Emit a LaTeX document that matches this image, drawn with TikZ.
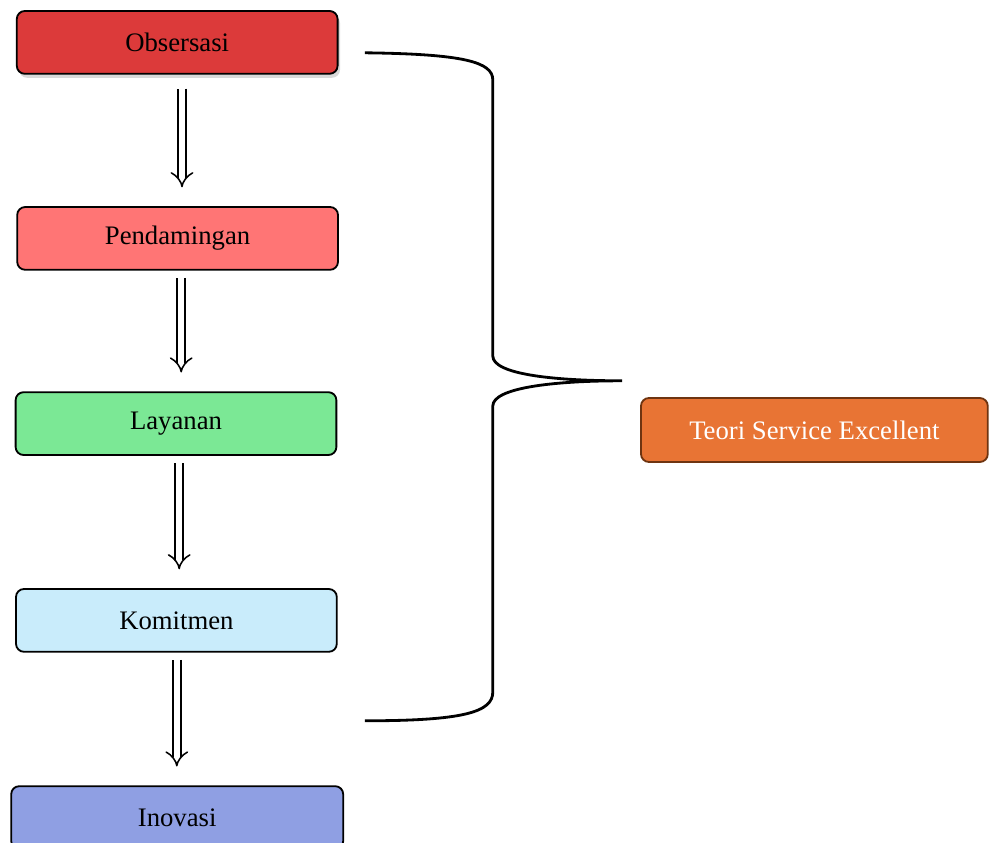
\documentclass[tikz,border=0pt]{standalone}
\usepackage{fontspec}
\setmainfont{Liberation Serif}
\usetikzlibrary{arrows.meta,shadows}
\definecolor{obsred}{RGB}{220,58,58}
\definecolor{pendpink}{RGB}{255,117,117}
\definecolor{laygreen}{RGB}{123,232,149}
\definecolor{komblue}{RGB}{201,236,251}
\definecolor{inoviolet}{RGB}{143,159,227}
\definecolor{teoorange}{RGB}{232,116,52}
\definecolor{teoborder}{RGB}{110,52,16}
\tikzset{
    stage/.style={draw=black,line width=1.3pt,rounded corners=0.2cm,minimum width=8.02cm,minimum height=1.57cm,font=\fontsize{19}{22}\selectfont},
    flow/.style={double,double distance=4.6pt,line width=1.1pt,-{Implies},shorten <=0.18cm,shorten >=0.47cm},
    brace/.style={line width=2pt}
}
\begin{document}
\begin{tikzpicture}
    \useasboundingbox (0,0) rectangle (24.725,-21.075);
    \node[stage,fill=obsred,drop shadow={opacity=0.3,shadow xshift=0.06cm,shadow yshift=-0.1cm}] (obs)  at ( 4.43, -1.06) {Obsersasi};
    \node[stage,fill=pendpink]                   (pend)  at ( 4.44, -5.96) {Pendamingan};
    \node[stage,fill=laygreen]                   (lay)   at ( 4.40,-10.59) {Layanan};
    \node[stage,fill=komblue]                    (kom)   at ( 4.41,-15.51) {Komitmen};
    \node[stage,fill=inoviolet,minimum width=8.3cm] (inov) at ( 4.43,-20.44) {Inovasi};
    \node[stage,fill=teoorange,draw=teoborder,text=white,minimum width=8.67cm,minimum height=1.6cm] (teori) at (20.36,-10.75) {Teori Service Excellent};
    \coordinate (bracetop) at ( 9.12, -1.32);
    \coordinate (bracetip) at (15.55, -9.52);
    \coordinate (bracebot) at ( 9.12,-18.02);
    \draw[flow,shorten <=0.35cm] ([xshift=0.12cm]obs.south)  -- ([xshift=0.12cm]obs.south |- pend.north);
    \draw[flow]                  ([xshift=0.09cm]pend.south) -- ([xshift=0.09cm]pend.south |- lay.north);
    \draw[flow]                  ([xshift=0.08cm]lay.south)  -- ([xshift=0.08cm]lay.south |- kom.north);
    \draw[flow]                  ([xshift=0.01cm]kom.south)  -- ([xshift=0.01cm]kom.south |- inov.north);
    \draw[brace] (bracetop) .. controls (11.6,-1.35) and (12.32,-1.55) .. (12.32,-2.0)
        -- (12.32,-8.9) .. controls (12.32,-9.35) and (13.8,-9.52) .. (bracetip)
        .. controls (13.8,-9.52) and (12.32,-9.7) .. (12.32,-10.15)
        -- (12.32,-17.3) .. controls (12.32,-17.8) and (11.6,-18.02) .. (bracebot);
\end{tikzpicture}
\end{document}
